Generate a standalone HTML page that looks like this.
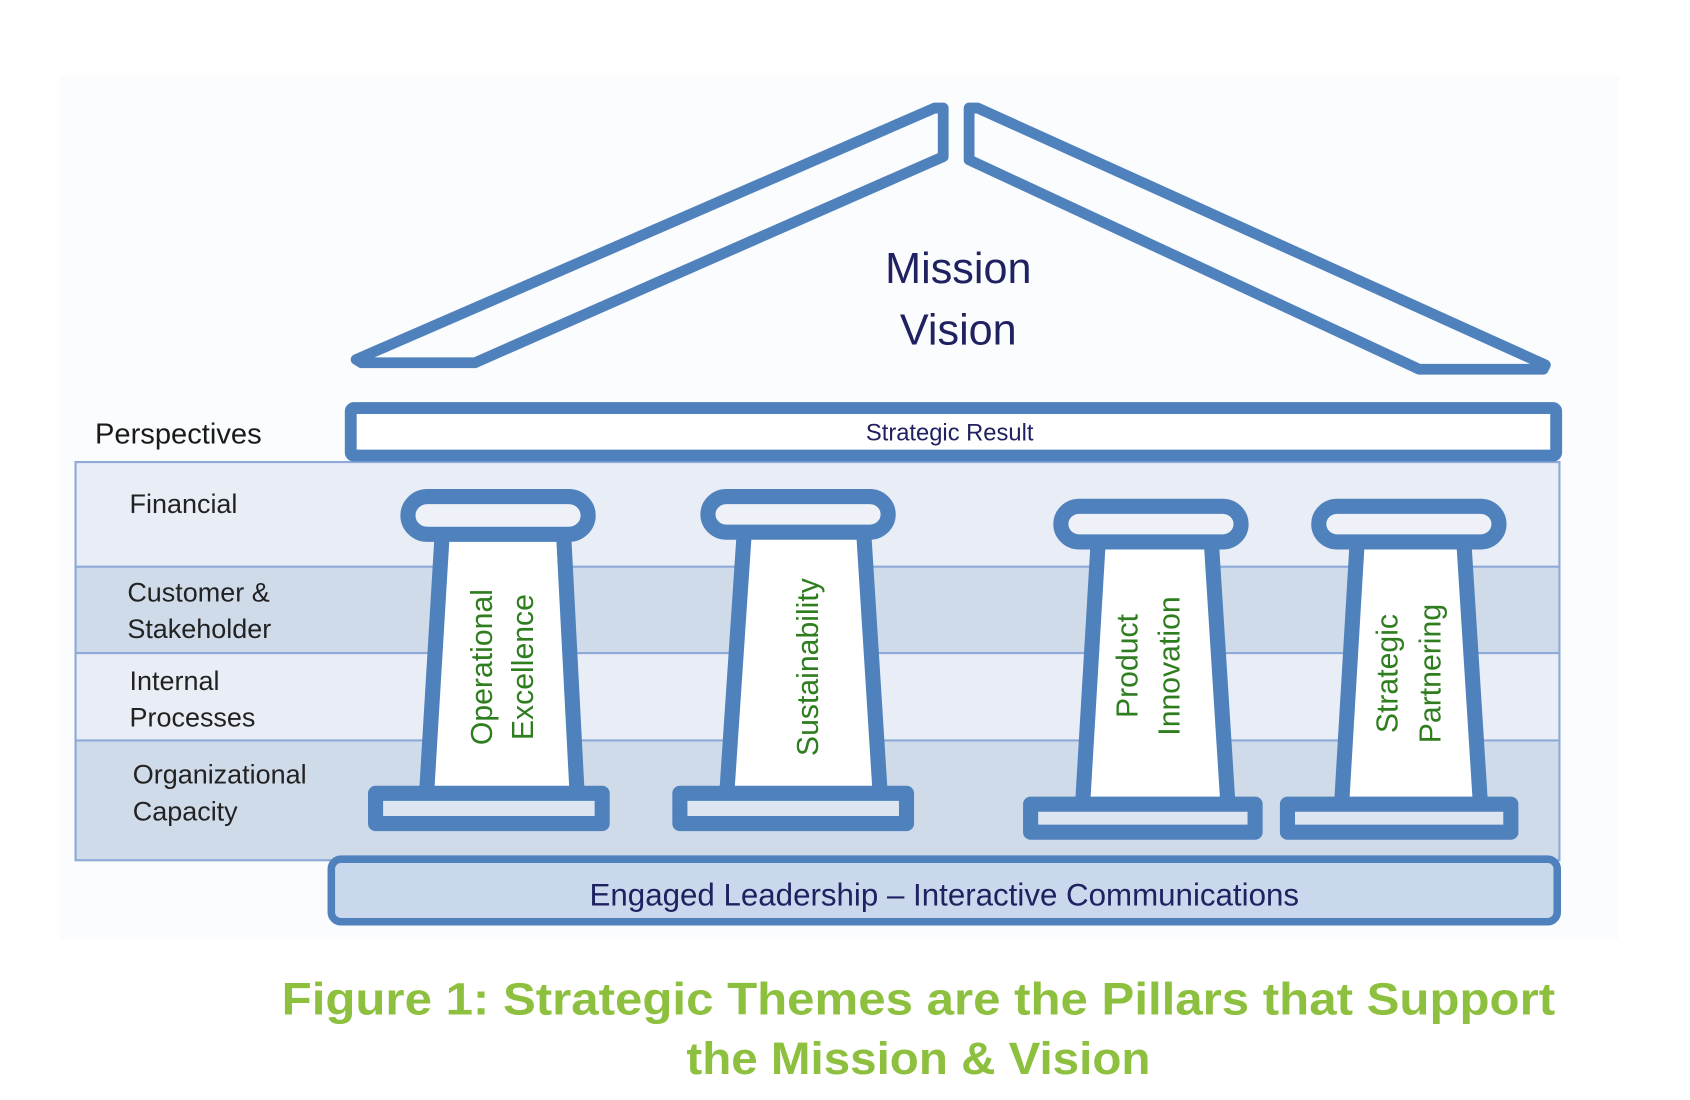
<!DOCTYPE html>
<html><head><meta charset="utf-8"><style>html,body{margin:0;padding:0;background:#fff}svg{display:block}</style></head>
<body>
<svg width="1690" height="1100" viewBox="0 0 1566 1019" xmlns="http://www.w3.org/2000/svg" font-family="Liberation Sans, DejaVu Sans, sans-serif">
<rect x="0" y="0" width="1566" height="1019" fill="#ffffff"/>
<rect x="55" y="70" width="1445" height="800" fill="#fbfcfd"/>
<!-- roof -->
<g fill="none" stroke="#4f81bd" stroke-width="10" stroke-linejoin="round">
<polygon points="330,333 866,100 874,100 874,145 440,336 335,336"/>
<polygon points="898,100 906,100 1432,338 1430,342 1315,342 898,148"/>
</g>
<text x="888" y="262" text-anchor="middle" font-size="40" fill="#1f2160">Mission</text>
<text x="888" y="319" text-anchor="middle" font-size="40" fill="#1f2160">Vision</text>
<!-- bands -->
<rect x="70" y="428" width="1375" height="97" fill="#e9edf5"/>
<rect x="70" y="525" width="1375" height="80" fill="#d0dbea"/>
<rect x="70" y="605" width="1375" height="81" fill="#e9edf5"/>
<rect x="70" y="686" width="1375" height="111" fill="#d0dbea"/>
<g stroke="#8eaad8" stroke-width="2" fill="none">
<rect x="70" y="428" width="1375" height="369"/>
<line x1="70" y1="525" x2="1445" y2="525"/>
<line x1="70" y1="605" x2="1445" y2="605"/>
<line x1="70" y1="686" x2="1445" y2="686"/>
</g>
<text x="88" y="411" font-size="27" fill="#1a1a1a">Perspectives</text>
<g font-size="25" fill="#222">
<text x="120" y="475">Financial</text>
<text x="118" y="557">Customer &amp;</text>
<text x="118" y="591">Stakeholder</text>
<text x="120" y="639">Internal</text>
<text x="120" y="673">Processes</text>
<text x="123" y="726">Organizational</text>
<text x="123" y="760">Capacity</text>
</g>
<!-- beam -->
<rect x="325" y="378" width="1117" height="44" fill="#fff" stroke="#4f81bd" stroke-width="11" rx="3"/>
<text x="880" y="408" text-anchor="middle" font-size="22" fill="#1f2160">Strategic Result</text>
<!-- pillars -->
<g stroke="#4f81bd" stroke-width="14" stroke-linejoin="round">
<polygon points="410,490 522,490 535,740 395,740" fill="#fff"/>
<rect x="378" y="460" width="167" height="35" rx="18" fill="#eef2f8"/>
<rect x="348" y="735" width="210" height="28" fill="#dde5f0"/>
<polygon points="690,488 800,488 816,742 673,742" fill="#fff"/>
<rect x="656" y="460" width="167" height="33" rx="17" fill="#eef2f8"/>
<rect x="630" y="735" width="210" height="28" fill="#dde5f0"/>
<polygon points="1018,495 1122,495 1138,748 1003,748" fill="#fff"/>
<rect x="983" y="469" width="167" height="33" rx="17" fill="#eef2f8"/>
<rect x="955" y="745" width="208" height="26" fill="#dde5f0"/>
<polygon points="1258,495 1356,495 1372,748 1243,748" fill="#fff"/>
<rect x="1222" y="469" width="167" height="33" rx="17" fill="#eef2f8"/>
<rect x="1193" y="745" width="207" height="26" fill="#dde5f0"/>
</g>
<g font-size="28" fill="#2e7d1e" text-anchor="middle">
<text transform="translate(456,618) rotate(-90)">Operational</text>
<text transform="translate(494,618) rotate(-90)">Excellence</text>
<text transform="translate(758,618) rotate(-90)">Sustainability</text>
<text transform="translate(1054,617) rotate(-90)">Product</text>
<text transform="translate(1093,617) rotate(-90)">Innovation</text>
<text transform="translate(1295,624) rotate(-90)">Strategic</text>
<text transform="translate(1335,624) rotate(-90)">Partnering</text>
</g>
<!-- foundation -->
<rect x="307" y="796" width="1136" height="58" rx="9" fill="#c9d8ec" stroke="#4f81bd" stroke-width="7"/>
<text x="875" y="839" text-anchor="middle" font-size="29" fill="#1f2160">Engaged Leadership – Interactive Communications</text>
<!-- caption -->
<text x="851" y="940" text-anchor="middle" font-size="42" font-weight="bold" fill="#8dc03f" textLength="1180" lengthAdjust="spacingAndGlyphs">Figure 1: Strategic Themes are the Pillars that Support</text>
<text x="851" y="995" text-anchor="middle" font-size="42" font-weight="bold" fill="#8dc03f" textLength="430" lengthAdjust="spacingAndGlyphs">the Mission &amp; Vision</text>
</svg>
</body></html>
